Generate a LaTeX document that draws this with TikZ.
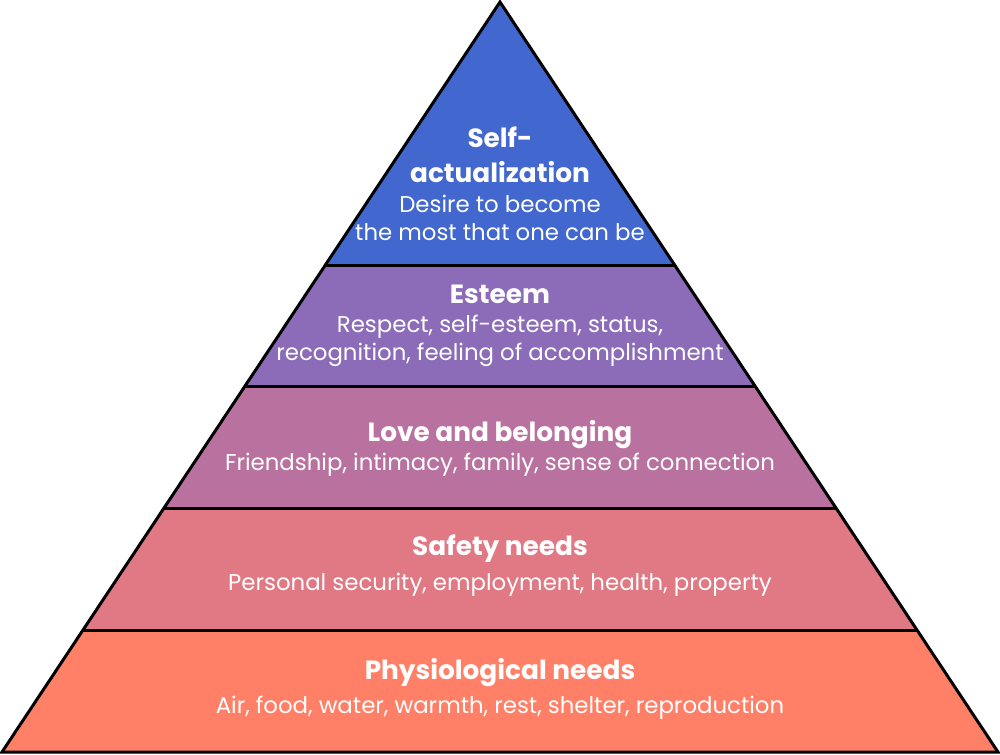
\documentclass[tikz,border=0pt]{standalone}
\usepackage{fontspec}
\setmainfont{Poppins}
\definecolor{selfblue}{HTML}{4268D0}
\definecolor{esteempurple}{HTML}{8C6CB9}
\definecolor{lovepink}{HTML}{B9719F}
\definecolor{safetyrose}{HTML}{E07984}
\definecolor{physiocoral}{HTML}{FF7F67}
\tikzset{
  title/.style={text=white, font=\fontsize{15}{20}\selectfont\bfseries, align=center, inner sep=0pt},
  desc/.style={text=white, font=\fontsize{13}{16}\selectfont, align=center, inner sep=0pt}
}
\begin{document}
\begin{tikzpicture}[x=0.2mm, y=-0.2mm, line width=1.7pt]
  \useasboundingbox (0,0) rectangle (1000,754);
  % layers, top to bottom
  \foreach \ya/\yb/\col in {2/265/selfblue, 265/386/esteempurple, 386/508/lovepink, 508/630/safetyrose, 630/752/physiocoral} {
    \fill[\col] ({500-(\ya-2)*0.664},\ya) -- ({500+(\ya-2)*0.664},\ya)
      -- ({500+(\yb-2)*0.664},\yb) -- ({500-(\yb-2)*0.664},\yb) -- cycle;
  }
  \draw[line join=miter] (500,2) -- (998,752) -- (2,752) -- cycle;
  \foreach \y in {265,386,508,630}
    \draw ({500-(\y-2)*0.664},\y) -- ({500+(\y-2)*0.664},\y);
  % texts
  \node[title] (selftitle) at (500,155) {Self-\\actualization};
  \node[desc] (selfdesc) at (500,218) {Desire to become\\the most that one can be};
  \node[title] (esteemtitle) at (500,294) {Esteem};
  \node[desc] (esteemdesc) at (500,341) {Respect, self-esteem, status,\\recognition, feeling of accomplishment};
  \node[title] (lovetitle) at (500,435) {Love and belonging};
  \node[desc] (lovedesc) at (500,465) {Friendship, intimacy, family, sense of connection};
  \node[title] (safetytitle) at (500,549) {Safety needs};
  \node[desc] (safetydesc) at (500,585) {Personal security, employment, health, property};
  \node[title] (physiotitle) at (500,673) {Physiological needs};
  \node[desc] (physiodesc) at (500,708) {Air, food, water, warmth, rest, shelter, reproduction};
\end{tikzpicture}
\end{document}
